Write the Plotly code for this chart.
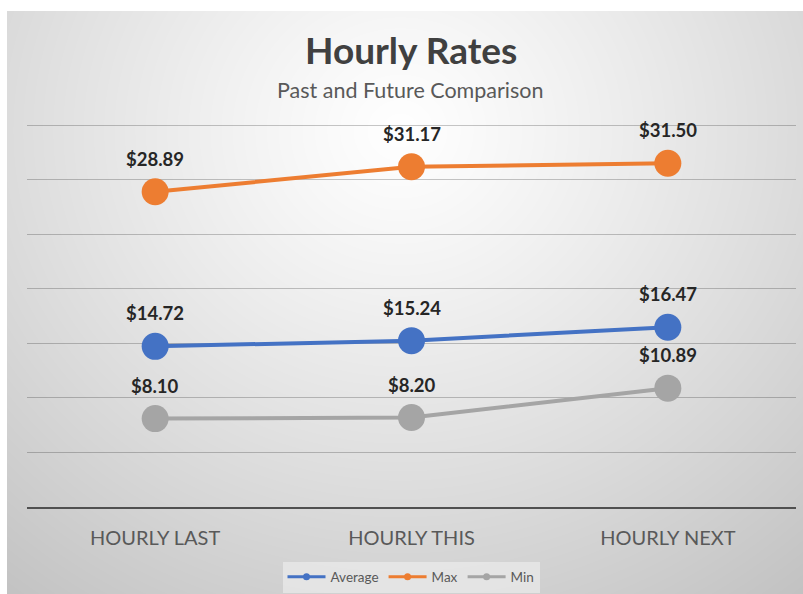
import base64, struct, zlib
import numpy as np
import plotly.graph_objects as go

# ---- data ----
categories = ["HOURLY LAST", "HOURLY THIS", "HOURLY NEXT"]
average = [14.72, 15.24, 16.47]
maximum = [28.89, 31.17, 31.50]
minimum = [8.10, 8.20, 10.89]
series_names = ["Average", "Max", "Min"]
series_colors = ["#4472C4", "#ED7D31", "#A5A5A5"]
title_text = "Hourly Rates"
subtitle_text = "Past and Future Comparison"

W, H = 803, 594
ML, MR, MT, MB = 27, 7, 122, 87
PW, PH = W - ML - MR, H - MT - MB
Y_TOP = PH / (382 / 35.0)

# ---- radial gradient background (decoration) ----
def gradient_png(w, h):
    ys, xs = np.mgrid[0:h, 0:w].astype(float)
    cx, cy = 400 - 7, 130 - 11
    t = np.sqrt(((xs - cx) / 560.0) ** 2 + ((ys - cy) / 520.0) ** 2)
    t = np.clip(t, 0, 1.2)
    v = 255 - 52 * t ** 1.15
    img = np.clip(v, 0, 255).astype(np.uint8)
    raw = b"".join(b"\x00" + img[r].tobytes() for r in range(h))
    def chunk(tag, data):
        c = struct.pack(">I", len(data)) + tag + data
        return c + struct.pack(">I", zlib.crc32(tag + data) & 0xffffffff)
    png = b"\x89PNG\r\n\x1a\n"
    png += chunk(b"IHDR", struct.pack(">IIBBBBB", w, h, 8, 0, 0, 0, 0))
    png += chunk(b"IDAT", zlib.compress(raw, 9))
    png += chunk(b"IEND", b"")
    return "data:image/png;base64," + base64.b64encode(png).decode()

bx0, by0 = 7, 11
img_src = gradient_png(W - bx0, H - by0)

def px_to_paper_x(px):
    return (px - ML) / PW

def px_to_paper_y(py):
    return 1 - (py - MT) / PH

FONT = "Lato"

fig = go.Figure()
all_series = [average, maximum, minimum]
for name, vals, col in zip(series_names, all_series, series_colors):
    fig.add_trace(go.Scatter(
        x=categories, y=vals, mode="lines+markers", name=name,
        line=dict(color=col, width=4),
        marker=dict(color=col, size=27),
        showlegend=False, cliponaxis=False,
    ))
for name, col in zip(series_names, series_colors):
    fig.add_trace(go.Scatter(
        x=[None], y=[None], mode="lines+markers", name=name,
        line=dict(color=col, width=3), marker=dict(color=col, size=7),
    ))

annotations = []
for vals in all_series:
    for c, v in zip(categories, vals):
        annotations.append(dict(
            x=c, y=v, xref="x", yref="y", text=f"${v:.2f}", showarrow=False,
            yshift=33, font=dict(family=FONT, size=18.5, color="#262626", weight="bold"),
        ))
annotations.append(dict(
    x=px_to_paper_x(411), y=px_to_paper_y(50), xref="paper", yref="paper",
    text=f"<b>{title_text}</b>", showarrow=False, yanchor="middle",
    font=dict(family=FONT, size=37, color="#404040"),
))
annotations.append(dict(
    x=px_to_paper_x(410), y=px_to_paper_y(90), xref="paper", yref="paper",
    text=subtitle_text, showarrow=False, yanchor="middle",
    font=dict(family=FONT, size=21.5, color="#595959"),
))

fig.update_layout(
    width=W, height=H,
    margin=dict(l=ML, r=MR, t=MT, b=MB, pad=0, autoexpand=False),
    paper_bgcolor="white", plot_bgcolor="rgba(0,0,0,0)",
    font=dict(family=FONT, color="#595959"),
    annotations=annotations,
    images=[dict(
        source=img_src, xref="paper", yref="paper",
        x=px_to_paper_x(bx0), y=px_to_paper_y(by0),
        sizex=(W - bx0) / PW, sizey=(H - by0) / PH,
        xanchor="left", yanchor="top", sizing="stretch", layer="below",
    )],
    showlegend=True,
    legend=dict(
        orientation="h", x=px_to_paper_x(411), xanchor="center",
        y=px_to_paper_y(577), yanchor="middle",
        bgcolor="rgba(240,240,240,0.6)", font=dict(family=FONT, size=13.5, color="#595959"),
        itemwidth=38, tracegroupgap=0,
    ),
    xaxis=dict(
        range=[-0.5, 2.5], showgrid=False, zeroline=False, automargin=False,
        showline=True, linecolor="#505050", linewidth=2,
        ticks="outside", ticklen=12, tickcolor="rgba(0,0,0,0)",
        tickfont=dict(family=FONT, size=20, color="#595959"), fixedrange=True,
    ),
    yaxis=dict(
        range=[0, Y_TOP], dtick=5, showgrid=True, gridcolor="rgba(0,0,0,0.22)", gridwidth=1,
        showticklabels=False, zeroline=False, showline=False, fixedrange=True,
        automargin=False,
    ),
)

fig.write_html("out.html", config={"displayModeBar": False},
               post_script="document.body.style.margin='0';")
